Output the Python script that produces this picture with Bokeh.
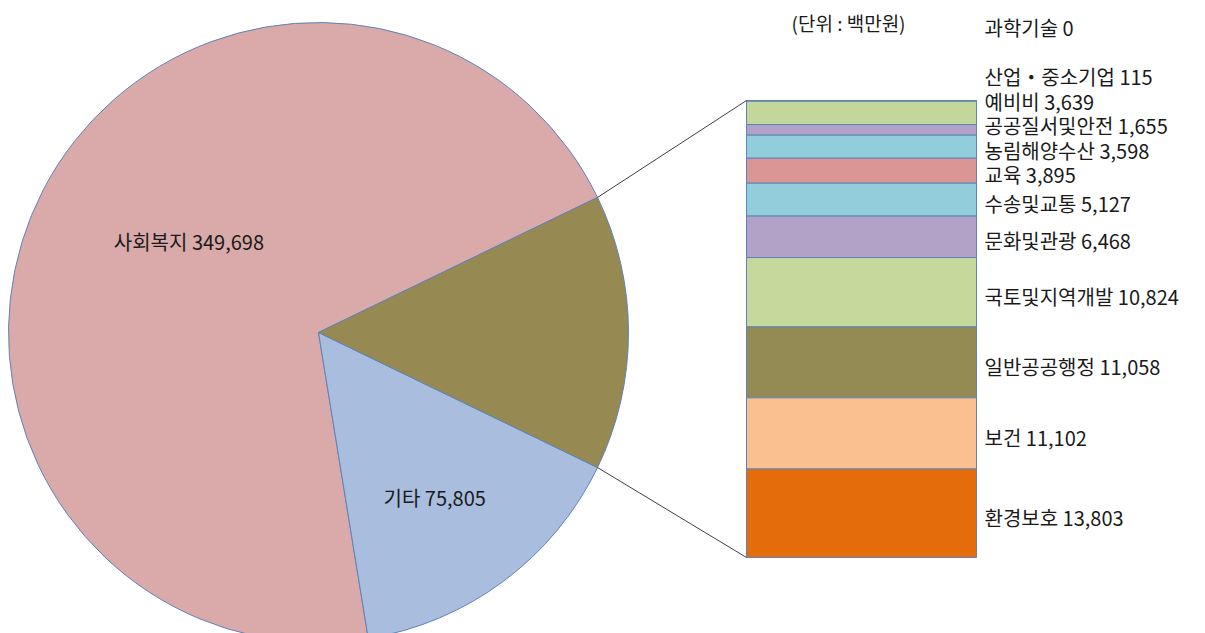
import math
from bokeh.plotting import figure
from bokeh.models import Range1d, ColumnDataSource
from bokeh.core.properties import value
from bokeh.embed import file_html
from bokeh.resources import INLINE

# ---------------- data ----------------
pie_labels = ["사회복지", "기타"]
pie_values = [349698, 75805]

# bar items, top to bottom as labelled in the chart
bar_labels = ["과학기술", "산업・중소기업", "예비비", "공공질서및안전", "농림해양수산", "교육",
              "수송및교통", "문화및관광", "국토및지역개발", "일반공공행정", "보건", "환경보호"]
bar_values = [0, 115, 3639, 1655, 3598, 3895, 5127, 6468, 10824, 11058, 11102, 13803]
unit_text = "(단위 : 백만원)"

# ---------------- style ----------------
pie_colors = ["#D9AAA9", "#A9BDDF"]
split_color = "#968A52"
bar_colors = ["#C4D79B", "#E46C0A", "#C4D79B", "#B3A2C7", "#92CDDC", "#DA9694",
              "#92CDDC", "#B3A2C7", "#C6D99D", "#948A54", "#FAC090", "#E46C0A"]
edge = "#5F83B8"
FONT = "Noto Sans CJK KR"
FS = "20px"

W, H = 1205, 633
def Y(py):  # screen-down pixel -> data y
    return H - py

# layout
CX, CY, R = 318, Y(332), 310
BAR_L, BAR_R, BAR_TOP, BAR_BOT = 746, 976, 100, 557
LABEL_X = 984

p = figure(width=W, height=H, x_range=Range1d(0, W), y_range=Range1d(0, H),
           output_backend="svg", toolbar_location=None, min_border=0)
p.axis.visible = False
p.grid.visible = False
p.outline_line_color = None
p.background_fill_color = "white"
p.border_fill_color = "white"

# ---------------- pie ----------------
split_total = sum(bar_values)
total = sum(pie_values) + split_total
a_split = 2 * math.pi * split_total / total
a_other = 2 * math.pi * pie_values[1] / total
starts = [a_split / 2, -a_split / 2 - a_other, -a_split / 2]
ends = [2 * math.pi - a_split / 2 - a_other, -a_split / 2, a_split / 2]
cols = [pie_colors[0], pie_colors[1], split_color]
p.wedge(x=[CX] * 3, y=[CY] * 3, radius=R, start_angle=starts, end_angle=ends,
        fill_color=cols, line_color=edge, line_width=1)

# pie labels (best-fit style placement inside the slices)
lab_frac = [0.51, 0.65]
lab_turn = [math.radians(-7.5), math.radians(-1.5)]
lx, ly, lt = [], [], []
for i in range(2):
    mid = (starts[i] + ends[i]) / 2 + lab_turn[i]
    lx.append(CX + lab_frac[i] * R * math.cos(mid))
    ly.append(CY + lab_frac[i] * R * math.sin(mid))
    lt.append(f"{pie_labels[i]} {pie_values[i]:,}")
p.text(x=lx, y=ly, text=lt, text_font=value(FONT), text_font_size=FS,
       text_align="center", text_baseline="middle", text_color="#1a1a1a")

# ---------------- bar ----------------
scale = (BAR_BOT - BAR_TOP) / split_total
tops, bots, centers = [], [], []
cur = BAR_TOP
for v in bar_values:
    tops.append(Y(cur))
    centers.append(cur + v * scale / 2)
    cur += v * scale
    bots.append(Y(cur))
src = ColumnDataSource(dict(x=[(BAR_L + BAR_R) / 2] * len(bar_values), top=tops,
                            bottom=bots, color=bar_colors))
p.vbar(x="x", top="top", bottom="bottom", width=BAR_R - BAR_L, fill_color="color",
       line_color=edge, line_width=1, source=src)

# connector lines
ex1 = CX + R * math.cos(a_split / 2); ey1 = CY + R * math.sin(a_split / 2)
ex2 = CX + R * math.cos(-a_split / 2); ey2 = CY + R * math.sin(-a_split / 2)
p.segment(x0=[ex1, ex2], y0=[ey1, ey2], x1=[BAR_L, BAR_L], y1=[Y(BAR_TOP), Y(BAR_BOT)],
          line_color="#404040", line_width=1)

# bar labels: at segment centres, pushed upward to avoid overlaps
GAP = 24.5
label_py = [0.0] * len(bar_values)
prev = None
for i in range(len(bar_values) - 1, -1, -1):
    c = centers[i] + 4
    g = GAP * (2 if bar_values[i] == 0 else 1)
    if prev is not None:
        c = min(c, prev - g)
    label_py[i] = c
    prev = c
p.text(x=[LABEL_X] * len(bar_values), y=[Y(v) for v in label_py],
       text=[f"{t} {v:,}" for t, v in zip(bar_labels, bar_values)],
       text_font=value(FONT), text_font_size=FS, text_align="left",
       text_baseline="middle", text_color="#1a1a1a")

# unit
p.text(x=[791], y=[Y(22)], text=[unit_text], text_font=value(FONT),
       text_font_size="19px", text_align="left", text_baseline="middle",
       text_color="#1a1a1a")

open("out.html", "w").write(file_html(p, INLINE))
